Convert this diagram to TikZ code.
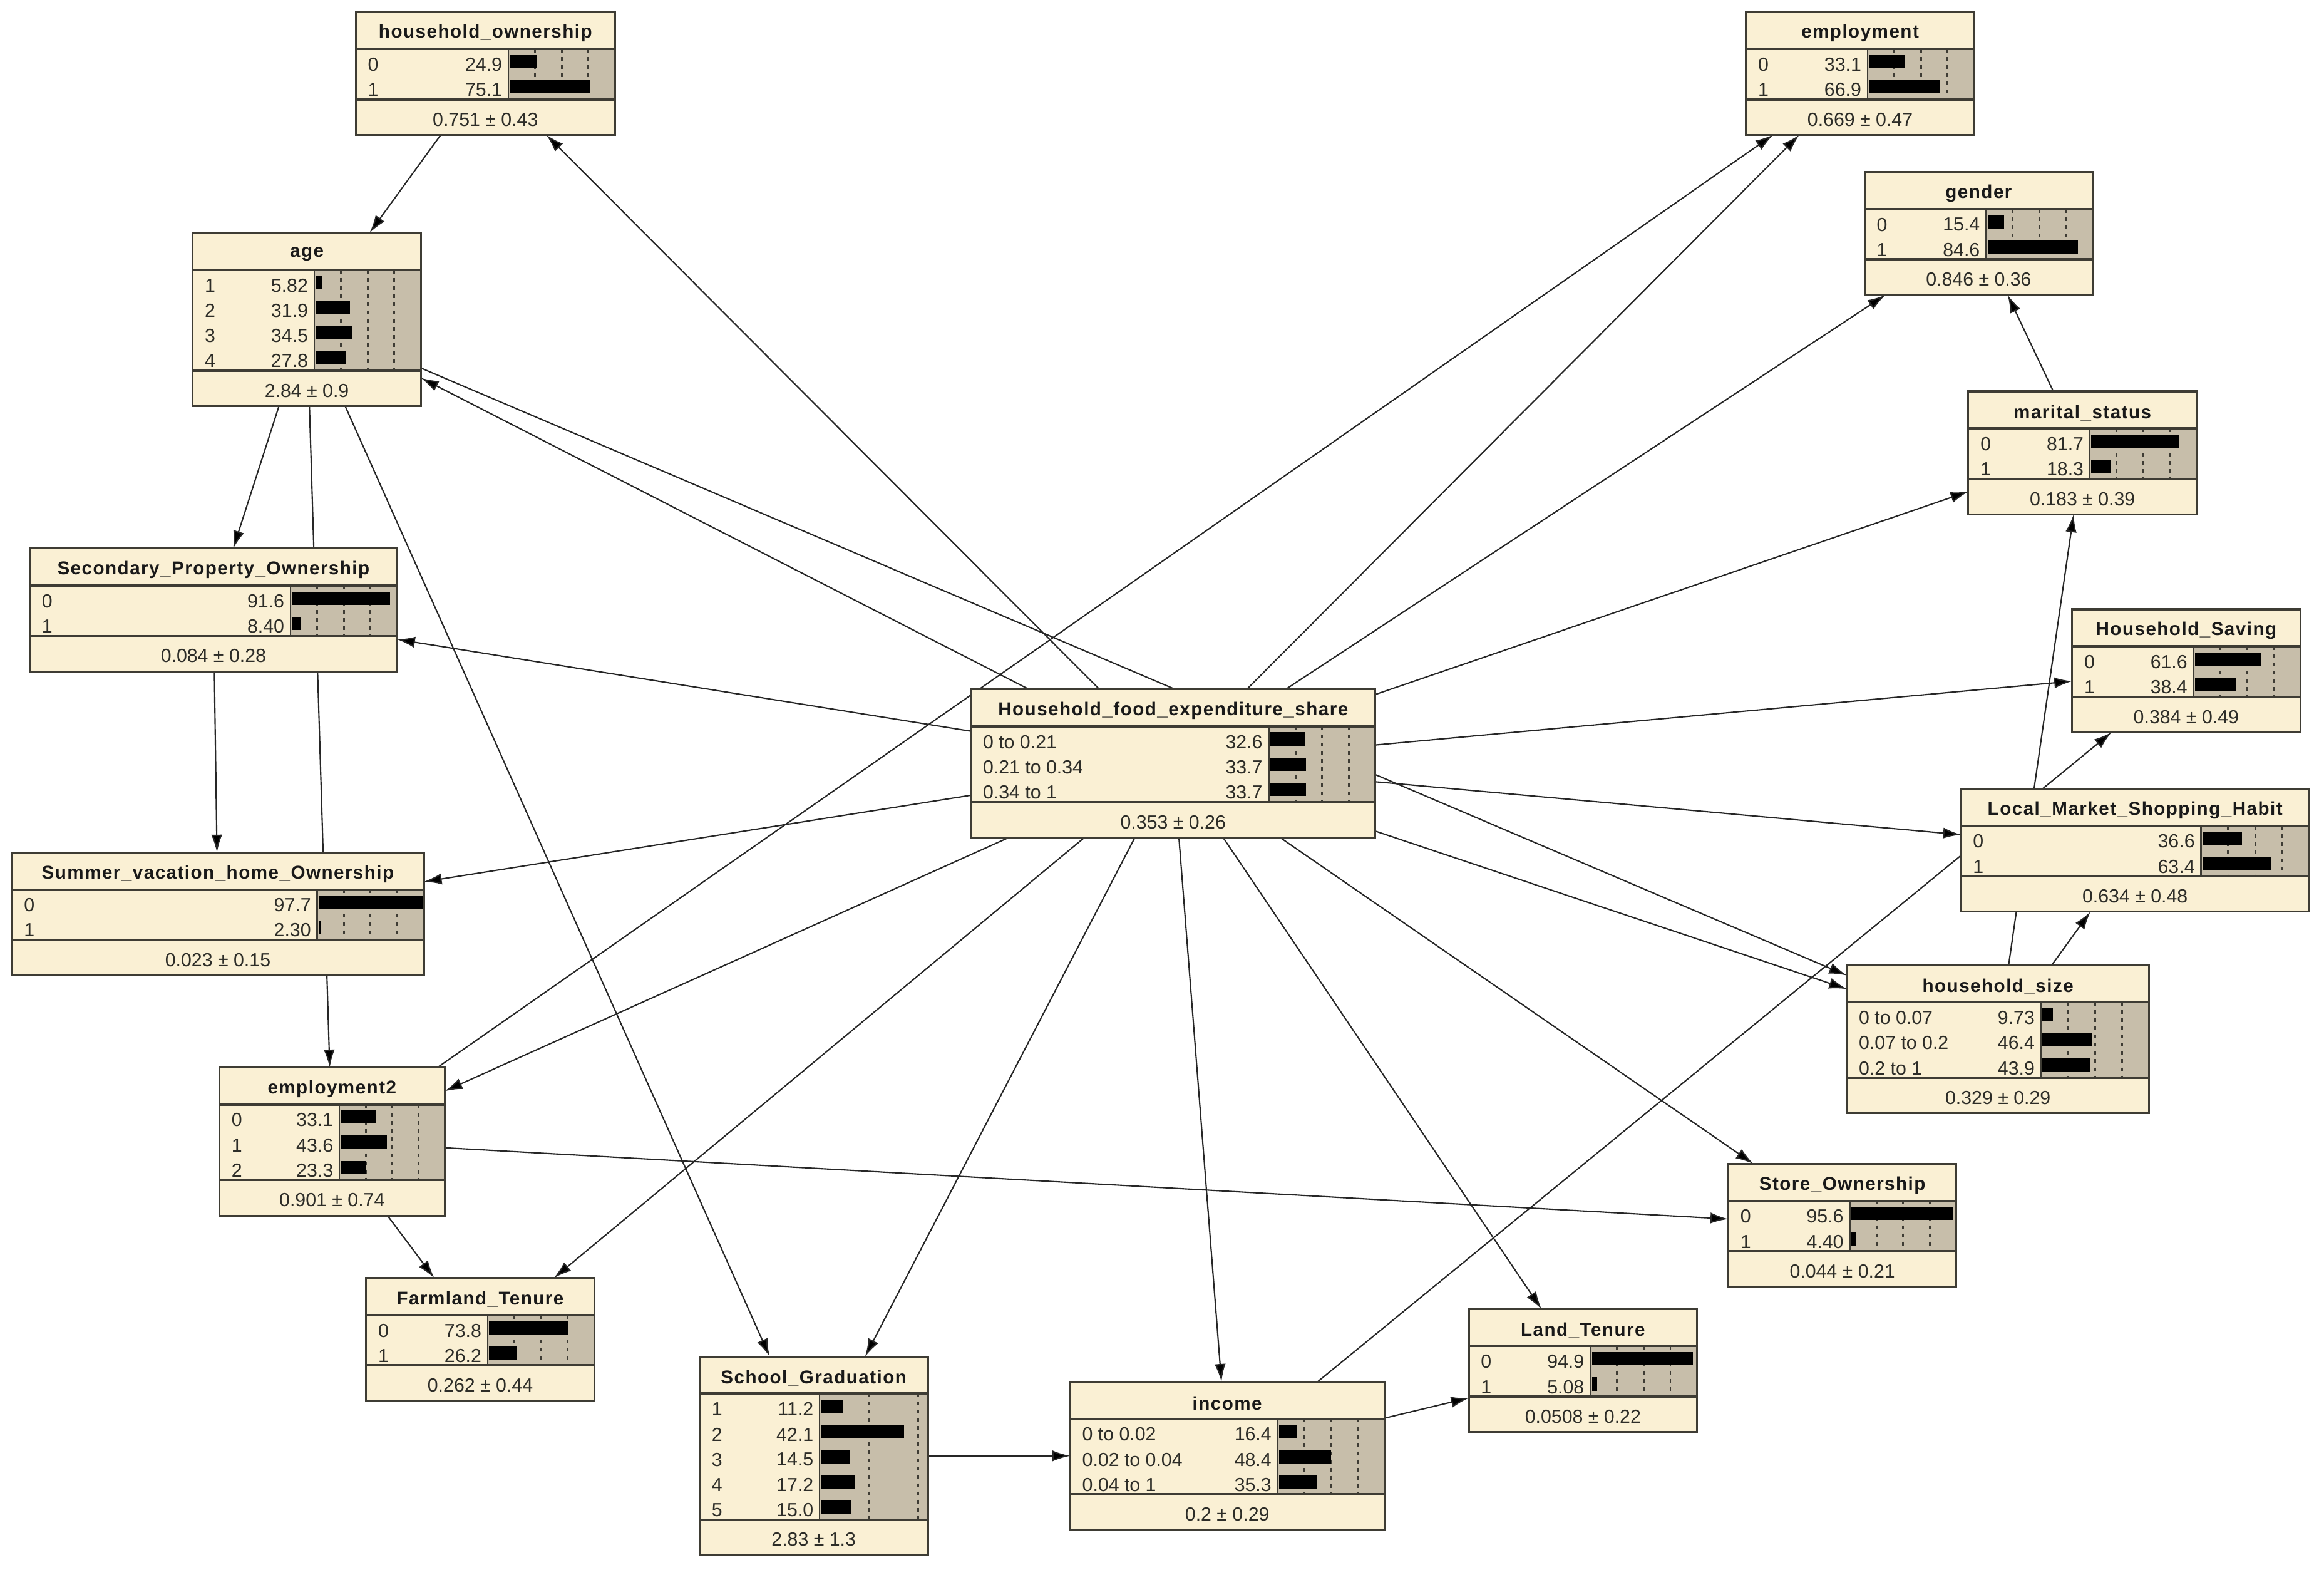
\documentclass[tikz,border=0pt]{standalone}
\usepackage{fontspec}
\setmainfont{Liberation Sans}
\newfontfamily\bntitlefont[LetterSpace=5]{Liberation Sans}
\usetikzlibrary{arrows.meta,backgrounds}

\definecolor{bncream}{RGB}{250,240,212}
\definecolor{bnbar}{RGB}{199,190,170}
\definecolor{bnedge}{RGB}{62,60,52}
\definecolor{bntext}{RGB}{45,45,40}

\tikzset{
  bnframe/.style={draw=bnedge,line width=1.3pt,fill=bncream,rectangle,inner sep=0pt,outer sep=0pt,anchor=north west},
  bnrule/.style={draw=bnedge,line width=1.6pt},
  bntick/.style={draw=bnedge,line width=1.2pt,dash pattern=on 2.5pt off 3pt},
  bntitle/.style={font=\bntitlefont\bfseries\fontsize{12.5}{14}\selectfont,text=black!90,inner sep=0pt},
  bnrow/.style={font=\fontsize{12.8}{14}\selectfont,text=bntext,inner sep=0pt},
  link/.style={draw=black!85,line width=0.9pt,-{Latex[length=12pt,width=7.5pt]}}
}

% #1 name, #2 top left, #3 width, #4 bar column, #5 states, #6 bar scale,
% #7 title, #8 state/value list, #9 mean
\newcommand{\bnbox}[9]{%
  \pgfmathsetmacro{\bnrows}{25+17*#5}%
  \pgfmathsetmacro{\bnh}{\bnrows+24}%
  \node[bnframe,minimum width=#3,minimum height=\bnh] (#1) at #2 {};
  \begin{scope}[shift={(#1.north west)}]
    \node[bntitle] (#1-title) at (#3/2,14.5) {#7};
    \fill[bnbar] (#4,25) rectangle (#3,\bnrows);
    \begin{scope}
      \clip (#4,25) rectangle (#3,\bnrows);
      \foreach \t in {0.25,0.5,0.75}
        \draw[bntick] (#4+\t*#6,25) -- (#4+\t*#6,\bnrows);
      \foreach \s/\v [count=\i] in {#8}
        \fill[black] (#4+1,25+17*\i-13) rectangle ++(\v/100*#6,9);
    \end{scope}
    \foreach \s/\v [count=\i] in {#8} {
      \node[bnrow,anchor=west] (#1-s\i) at (8,25+17*\i-6.5) {\s};
      \node[bnrow,anchor=east] (#1-v\i) at (#4-4,25+17*\i-6.5) {\v};
    }
    \draw[bnrule] (0,25) -- (#3,25);
    \draw[bnrule] (0,\bnrows) -- (#3,\bnrows);
    \draw[bnedge,line width=1.1pt] (#4,25) -- (#4,\bnrows);
    \node[bnrow] (#1-mean) at (#3/2,\bnrows+13.5) {#9};
    \draw[bnedge,line width=1.3pt] (0,0) rectangle (#3,\bnh);
  \end{scope}
}

\begin{document}
\begin{tikzpicture}[x=1pt,y=-1pt]
  \useasboundingbox (0,0) rectangle (1568,1062);

  %nodes, left column
  \bnbox{hown}{(240,8)}{175}{103}{2}{72}{household\_ownership}{0/24.9,1/75.1}{0.751 ± 0.43}
  \bnbox{age}{(130,157)}{154}{82}{4}{72}{age}{1/5.82,2/31.9,3/34.5,4/27.8}{2.84 ± 0.9}
  \bnbox{spo}{(20,370)}{248}{176}{2}{72}{Secondary\_Property\_Ownership}{0/91.6,1/8.40}{0.084 ± 0.28}
  \bnbox{svho}{(8,575)}{278}{206}{2}{72}{Summer\_vacation\_home\_Ownership}{0/97.7,1/2.30}{0.023 ± 0.15}
  \bnbox{emp2}{(148,720)}{152}{81}{3}{71}{employment2}{0/33.1,1/43.6,2/23.3}{0.901 ± 0.74}
  \bnbox{farm}{(247,862)}{154}{82}{2}{72}{Farmland\_Tenure}{0/73.8,1/26.2}{0.262 ± 0.44}

  %nodes, middle
  \bnbox{hfes}{(655,465)}{273}{201}{3}{72}{Household\_food\_expenditure\_share}{0 to 0.21/32.6,0.21 to 0.34/33.7,0.34 to 1/33.7}{0.353 ± 0.26}
  \bnbox{scho}{(472,915)}{154}{81}{5}{133}{School\_Graduation}{1/11.2,2/42.1,3/14.5,4/17.2,5/15.0}{2.83 ± 1.3}
  \bnbox{inco}{(722,932)}{212}{140}{3}{72}{income}{0 to 0.02/16.4,0.02 to 0.04/48.4,0.04 to 1/35.3}{0.2 ± 0.29}
  \bnbox{land}{(991,883)}{154}{82}{2}{72}{Land\_Tenure}{0/94.9,1/5.08}{0.0508 ± 0.22}

  %nodes, right column
  \bnbox{empl}{(1178,8)}{154}{82}{2}{72}{employment}{0/33.1,1/66.9}{0.669 ± 0.47}
  \bnbox{gend}{(1258,116)}{154}{82}{2}{72}{gender}{0/15.4,1/84.6}{0.846 ± 0.36}
  \bnbox{mari}{(1328,264)}{154}{82}{2}{72}{marital\_status}{0/81.7,1/18.3}{0.183 ± 0.39}
  \bnbox{hsav}{(1398,411)}{154}{82}{2}{72}{Household\_Saving}{0/61.6,1/38.4}{0.384 ± 0.49}
  \bnbox{lmsh}{(1323,532)}{235}{162}{2}{73}{Local\_Market\_Shopping\_Habit}{0/36.6,1/63.4}{0.634 ± 0.48}
  \bnbox{hsiz}{(1246,651)}{204}{131}{3}{73}{household\_size}{0 to 0.07/9.73,0.07 to 0.2/46.4,0.2 to 1/43.9}{0.329 ± 0.29}
  \bnbox{stor}{(1166,785)}{154}{82}{2}{72}{Store\_Ownership}{0/95.6,1/4.40}{0.044 ± 0.21}

  %links
  \begin{pgfonlayer}{background}
    \fill[white] (0,0) rectangle (1568,1062);
    \path[link]
      (hown) edge (age)
      (hfes) edge (hown)
      (hfes) edge (empl)
      (emp2) edge (empl)
      (hfes) edge (gend)
      (mari) edge (gend)
      (hfes) edge (mari)
      (hsiz) edge (mari)
      (inco) edge (hsav)
      (hfes) edge (hsav)
      (hfes) edge (lmsh)
      (hfes) edge (hsiz)
      (age) edge (hsiz)
      (hsiz) edge (lmsh)
      (hfes) edge (age)
      (age) edge (spo)
      (age) edge (emp2)
      (age) edge (scho)
      (spo) edge (svho)
      (hfes) edge (spo)
      (hfes) edge (svho)
      (hfes) edge (emp2)
      (hfes) edge (farm)
      (hfes) edge (scho)
      (hfes) edge (inco)
      (hfes) edge (land)
      (hfes) edge (stor)
      (emp2) edge (farm)
      (emp2) edge (stor)
      (scho) edge (inco)
      (inco) edge (land)
    ;
  \end{pgfonlayer}
\end{tikzpicture}
\end{document}
